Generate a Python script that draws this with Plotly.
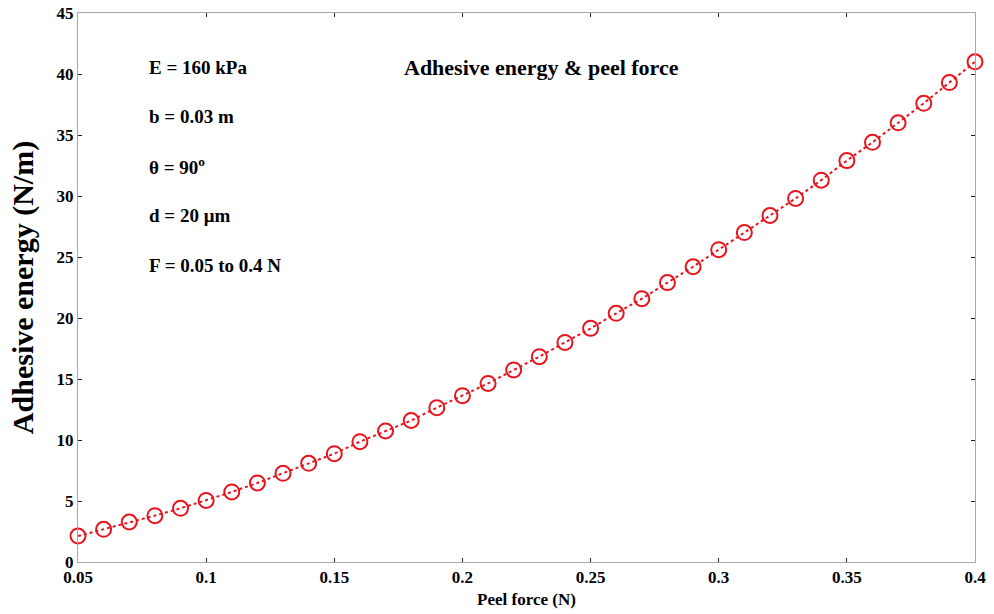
import plotly.graph_objects as go

# Peel force (N) and the corresponding adhesive energy (N/m)
peel_force = [0.05, 0.06, 0.07, 0.08, 0.09, 0.10, 0.11, 0.12, 0.13, 0.14,
              0.15, 0.16, 0.17, 0.18, 0.19, 0.20, 0.21, 0.22, 0.23, 0.24,
              0.25, 0.26, 0.27, 0.28, 0.29, 0.30, 0.31, 0.32, 0.33, 0.34,
              0.35, 0.36, 0.37, 0.38, 0.39, 0.40]
adhesive_energy = [2.13, 2.68, 3.28, 3.80, 4.40, 5.05, 5.74, 6.48, 7.27, 8.09,
                   8.88, 9.86, 10.74, 11.60, 12.65, 13.63, 14.64, 15.74, 16.83, 18.00,
                   19.15, 20.38, 21.58, 22.90, 24.20, 25.60, 27.00, 28.40, 29.80, 31.30,
                   32.90, 34.40, 36.00, 37.60, 39.30, 41.00]

x_ticks = [0.05, 0.1, 0.15, 0.2, 0.25, 0.3, 0.35, 0.4]
x_tick_text = ["0.05", "0.1", "0.15", "0.2", "0.25", "0.3", "0.35", "0.4"]
y_ticks = [0, 5, 10, 15, 20, 25, 30, 35, 40, 45]

parameter_lines = ["E = 160 kPa", "b = 0.03 m", "θ = 90<sup>o</sup>",
                   "d = 20 μm", "F = 0.05 to 0.4 N"]
parameter_y = [40.5, 36.5, 32.5, 28.4, 24.3]

FONT = "Liberation Serif"
RED = "#e8141c"

fig = go.Figure()
fig.add_trace(go.Scatter(
    x=peel_force, y=adhesive_energy,
    mode="lines+markers",
    line=dict(color=RED, width=2, dash="dot"),
    marker=dict(symbol="circle-open", size=15, color=RED,
                line=dict(color=RED, width=2)),
    cliponaxis=False,
    showlegend=False,
))

for text, yv in zip(parameter_lines, parameter_y):
    fig.add_annotation(x=0.077, y=yv, xref="x", yref="y", text=f"<b>{text}</b>",
                       showarrow=False, xanchor="left", yanchor="middle",
                       font=dict(family=FONT, size=19, color="black"))

fig.add_annotation(x=0.231, y=40.5, xref="x", yref="y",
                   text="<b>Adhesive energy &amp; peel force</b>",
                   showarrow=False, xanchor="center", yanchor="middle",
                   font=dict(family=FONT, size=22, color="black"))

axis_common = dict(
    showgrid=False, zeroline=False, automargin=False,
    showline=True, linecolor="#a8a8a8", linewidth=1,
    mirror="allticks", ticks="inside", ticklen=4, tickcolor="#222222",
    tickwidth=1,
    tickfont=dict(family=FONT, size=17, color="black", weight="bold"),
)

fig.update_xaxes(range=[0.05, 0.4], tickvals=x_ticks, ticktext=x_tick_text,
                 title=dict(text="<b>Peel force (N)</b>", standoff=6,
                            font=dict(family=FONT, size=17, color="black")),
                 **axis_common)
fig.update_yaxes(range=[0, 45], tickvals=y_ticks,
                 title=dict(text="<b>Adhesive energy (N/m)</b>", standoff=14,
                            font=dict(family=FONT, size=30, color="black")),
                 **axis_common)

fig.update_layout(
    width=994, height=614,
    margin=dict(l=78, r=19, t=13, b=52),
    paper_bgcolor="white", plot_bgcolor="white",
)

fig.write_html("out.html")
